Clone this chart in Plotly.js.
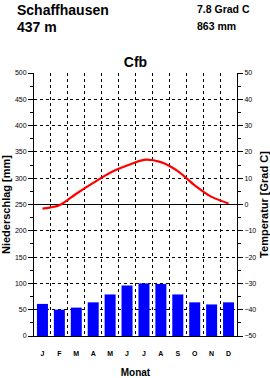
<!DOCTYPE html>
<html>
<head>
<meta charset="utf-8">
<script src="https://cdn.plot.ly/plotly-3.0.1.min.js"></script>
<style>html,body{margin:0;padding:0;background:#fff;}#chart{width:270px;height:378px;}</style>
</head>
<body>
<div id="chart"></div>
<script>
const months = ["J","F","M","A","M","J","J","A","S","O","N","D"];
const monthPos = [0.5,1.5,2.5,3.5,4.5,5.5,6.5,7.5,8.5,9.5,10.5,11.5];
const precipitation = [61,50,54,64,79,96,100,99,79,64,60,64];
const temperature = [-1.6,-0.3,4.1,8.2,12.1,14.8,17.0,16.1,12.7,7.3,2.9,0.4];
const station = "Schaffhausen";
const elevation = "437 m";
const meanTemp = "7.8 Grad C";
const totalPrecip = "863 mm";
const climateClass = "Cfb";

const F = "Liberation Sans, Arial, Helvetica, sans-serif";

const traces = [
  {type:"bar", x:monthPos, y:precipitation, width:0.65, marker:{color:"#0000ff", line:{width:0}}, yaxis:"y", hoverinfo:"skip"},
  {type:"scatter", mode:"lines", x:monthPos, y:temperature, yaxis:"y2", line:{color:"#ff0000", width:2.2, shape:"spline", smoothing:0.8}, hoverinfo:"skip"}
];

const layout = {
  width:270, height:378,
  margin:{l:34, r:33, t:73, b:42},
  paper_bgcolor:"#fff", plot_bgcolor:"#fff",
  showlegend:false,
  font:{family:F, color:"#000", size:7},
  title:{text:climateClass, x:0.5, xref:"paper", xanchor:"center", y:1-62/378, yref:"container", yanchor:"middle", font:{family:F, size:14, weight:"bold", color:"#000"}},
  xaxis:{
    range:[0,12], tickmode:"array", tickvals:monthPos, ticktext:months,
    showgrid:false, zeroline:false, showline:true, linecolor:"#000", linewidth:1,
    ticks:"outside", ticklen:11, tickcolor:"rgba(0,0,0,0)",
    tickfont:{family:F, size:7, weight:"bold"},
    minor:{tick0:0, dtick:1, showgrid:true, gridcolor:"#000", griddash:"dot", gridwidth:1, ticks:""},
    title:{text:"Monat", font:{family:F, size:10, weight:"bold"}, standoff:14},
    fixedrange:true
  },
  yaxis:{
    range:[0,500], tick0:0, dtick:50, showgrid:true, gridcolor:"#000", griddash:"dot", gridwidth:1,
    zeroline:false, showline:true, linecolor:"#000", linewidth:1,
    ticks:"outside", ticklen:5, tickcolor:"#000", tickfont:{family:F, size:7},
    minor:{tick0:0, dtick:25, ticks:"outside", ticklen:3, tickcolor:"#000", showgrid:false},
    title:{text:"Niederschlag [mm]", font:{family:F, size:11, weight:"bold"}, standoff:6},
    fixedrange:true
  },
  yaxis2:{
    overlaying:"y", side:"right", range:[-50,50], tick0:0, dtick:10,
    showgrid:false, zeroline:true, zerolinecolor:"#000", zerolinewidth:1,
    showline:true, linecolor:"#000", linewidth:1,
    ticks:"outside", ticklen:5, tickcolor:"#000", tickfont:{family:F, size:7},
    minor:{tick0:0, dtick:5, ticks:"outside", ticklen:3, tickcolor:"#000", showgrid:false},
    title:{text:"Temperatur [Grad C]", font:{family:F, size:11, weight:"bold"}, standoff:6},
    fixedrange:true
  },
  annotations:[
    {text:station, xref:"paper", yref:"paper", x:(15-34)/203, y:1+73/262, xanchor:"left", yanchor:"top", showarrow:false, font:{family:F, size:14, weight:"bold"}},
    {text:elevation, xref:"paper", yref:"paper", x:(15-34)/203, y:1+(73-17)/262, xanchor:"left", yanchor:"top", showarrow:false, font:{family:F, size:14, weight:"bold"}},
    {text:meanTemp, xref:"paper", yref:"paper", x:(195-34)/203, y:1+(73-1)/262, xanchor:"left", yanchor:"top", showarrow:false, font:{family:F, size:10.5, weight:"bold"}},
    {text:totalPrecip, xref:"paper", yref:"paper", x:(195-34)/203, y:1+(73-18)/262, xanchor:"left", yanchor:"top", showarrow:false, font:{family:F, size:10.5, weight:"bold"}}
  ]
};

Plotly.newPlot("chart", traces, layout, {staticPlot:true, displayModeBar:false});
</script>
</body>
</html>
